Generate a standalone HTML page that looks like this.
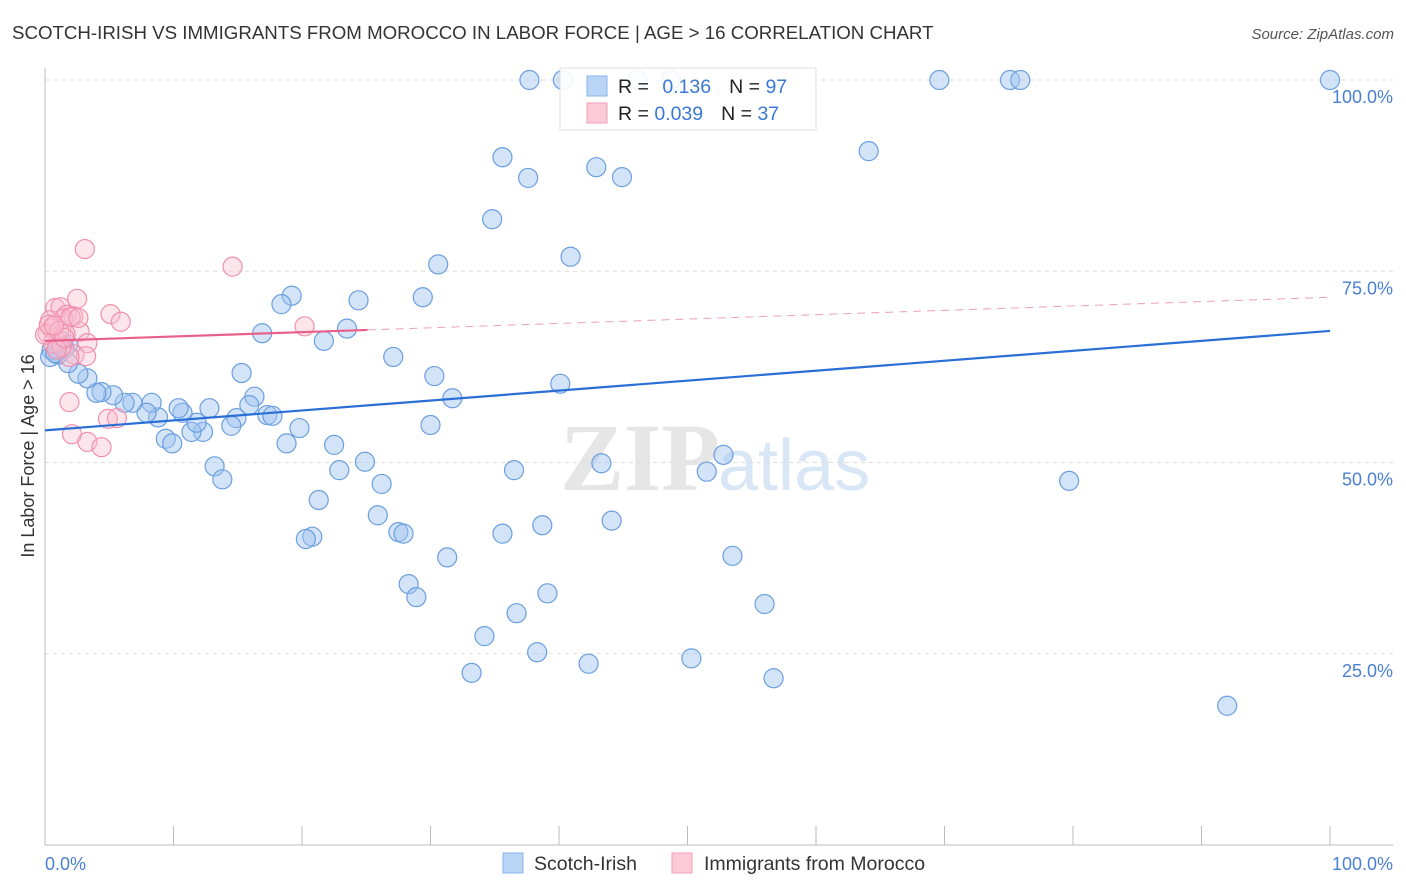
<!DOCTYPE html>
<html><head><meta charset="utf-8">
<style>
body{margin:0;background:#fff;font-family:"Liberation Sans",sans-serif;}
#wrap{position:relative;width:1406px;height:892px;overflow:hidden;}
</style></head>
<body>
<div id="wrap">
<svg id="svg" width="1406" height="892">
  <text x="12" y="39" font-size="18.7" fill="#333">SCOTCH-IRISH VS IMMIGRANTS FROM MOROCCO IN LABOR FORCE | AGE &gt; 16 CORRELATION CHART</text>
  <text x="1394" y="39" font-size="15" fill="#555" font-style="italic" text-anchor="end">Source: ZipAtlas.com</text>
  <text x="720" y="490" font-size="96" font-weight="bold" fill="#e6e6e6" text-anchor="end" font-family="Liberation Serif">ZIP</text>
  <text x="718" y="490" font-size="72" fill="#d8e6f6">atlas</text>
  <g id="grid"></g>
  <g id="axes"></g>
  <g id="pts"></g>
  <g id="lines"></g>
  <text transform="translate(34,456) rotate(-90)" font-size="18" fill="#333" text-anchor="middle">In Labor Force | Age &gt; 16</text>
  <text x="45" y="870" font-size="18" fill="#4a80d0">0.0%</text>
  <text x="1393" y="870" font-size="18" fill="#4a80d0" text-anchor="end">100.0%</text>
  <g>
    <rect x="560" y="68" width="256" height="62" fill="#fff" fill-opacity="0.9" stroke="#ddd"/>
    <rect x="587" y="76" width="20" height="20" fill="#b9d4f5" stroke="#8ab4ea"/>
    <rect x="587" y="103" width="20" height="20" fill="#fbc9d7" stroke="#f2a0b8"/>
    <text x="618" y="93" font-size="19.5" fill="#222">R = <tspan fill="#3a78d4" dx="8">0.136</tspan><tspan dx="18" fill="#222">N = </tspan><tspan fill="#3a78d4">97</tspan></text>
    <text x="618" y="120" font-size="19.5" fill="#222">R = <tspan fill="#3a78d4">0.039</tspan><tspan dx="18" fill="#222">N = </tspan><tspan fill="#3a78d4">37</tspan></text>
  </g>
  <g>
    <rect x="503" y="853" width="20" height="20" fill="#b9d4f5" stroke="#8ab4ea"/>
    <text x="534" y="870" font-size="19.5" fill="#333">Scotch-Irish</text>
    <rect x="672" y="853" width="20" height="20" fill="#fbc9d7" stroke="#f2a0b8"/>
    <text x="704" y="870" font-size="19.5" fill="#333">Immigrants from Morocco</text>
  </g>
</svg>
</div>
<script>
const yTicks=[25,50,75,100];
const yTickLabels=["25.0%","50.0%","75.0%","100.0%"];
const xTicks=[0,10,20,30,40,50,60,70,80,90,100];
const blueX=[37.7,40.3,46.1,48.7,69.6,75.1,75.9,100,35.6,64.1,42.9,37.6,44.9,34.8,40.9,30.6,19.2,18.4,24.4,29.4,16.9,23.5,21.7,27.1,30.3,40.1,31.7,15.3,16.3,15.9,14.9,14.5,17.3,17.7,19.8,12.8,12.3,11.4,11.8,10.7,10.4,9.4,9.9,8.8,8.3,7.9,6.8,6.2,5.3,4.4,4.0,3.3,2.6,1.8,1.0,0.5,1.2,1.8,18.8,22.5,30.0,24.9,22.9,13.2,13.8,26.2,21.3,25.9,27.5,27.9,20.8,20.3,31.3,28.3,28.9,35.6,38.7,36.5,43.3,44.1,39.1,36.7,34.2,38.3,33.2,42.3,50.3,52.8,51.5,53.5,56.0,56.7,79.7,92.0,0.4,0.8,1.5];
const blueY=[100,100,100,100,100,100,100,100,89.9,90.7,88.6,87.2,87.3,81.8,76.9,75.9,71.8,70.7,71.2,71.6,66.9,67.5,65.9,63.8,61.3,60.3,58.4,61.7,58.6,57.5,55.8,54.8,56.2,56.1,54.5,57.1,54.0,54.0,55.2,56.5,57.1,53.1,52.5,55.9,57.8,56.5,57.8,57.8,58.8,59.2,59.1,61.0,61.6,63.0,64.1,64.7,66.0,65.4,52.5,52.3,54.9,50.1,49.0,49.5,47.8,47.2,45.1,43.1,40.9,40.7,40.3,40.0,37.6,34.1,32.4,40.7,41.8,49.0,49.9,42.4,32.9,30.3,27.3,25.2,22.5,23.7,24.4,51.0,48.8,37.8,31.5,21.8,47.6,18.2,63.8,64.3,64.9];
const pinkX=[3.1,14.6,2.5,0.8,1.2,5.1,5.9,1.7,2.2,1.4,0.4,0.5,2.7,1.6,0.2,20.2,3.3,1.0,2.3,3.2,1.9,1.9,4.9,5.6,2.1,3.3,4.4,0.6,0,1.3,0.3,1.1,2.0,0.9,1.5,0.7,2.6];
const pinkY=[77.9,75.6,71.4,70.2,70.3,69.4,68.4,69.3,69.1,68.8,68.6,67.5,67.1,66.8,66.9,67.8,65.6,65.8,64.1,63.9,63.8,57.9,55.7,55.8,53.7,52.7,52.0,65.6,66.7,65.1,68.0,67.2,69.0,64.8,66.3,67.9,68.9];
const blueTrend=[54.2,67.2];
const pinkTrend=[65.9,71.6];
const pinkSolidEnd=25.1;

const NS="http://www.w3.org/2000/svg";
const X=v=>45+v*12.85, Y=v=>845-v*7.65;
function mk(tag,attrs,parent){const e=document.createElementNS(NS,tag);for(const k in attrs)e.setAttribute(k,attrs[k]);document.getElementById(parent).appendChild(e);return e;}
yTicks.forEach((t,i)=>{
  const l=mk('line',{x1:45,x2:1393,y1:Y(t),y2:Y(t),stroke:'#ddd','stroke-dasharray':'4,4'},'grid');
  
  
  const tx=mk('text',{x:1393,y:Y(t)+23,'font-size':18,fill:'#4a80d0','text-anchor':'end'},'grid');
  tx.textContent=yTickLabels[i];
  
  
});
let a=mk('line',{x1:45,x2:45,y1:68,y2:845,stroke:'#bbb'},'axes');


a=mk('line',{x1:45,x2:1393,y1:845,y2:845,stroke:'#bbb'},'axes');


xTicks.forEach(t=>{
  const l=mk('line',{x1:X(t),x2:X(t),y1:826,y2:845,stroke:'#bbb'},'axes');
  
  
});
blueX.forEach((v,i)=>{
  const c=mk('circle',{cx:X(v),cy:Y(blueY[i]),r:9.5,fill:'rgba(160,196,240,0.45)',stroke:'#6a9fe0','stroke-width':1.2},'pts');
  
  
});
pinkX.forEach((v,i)=>{
  const c=mk('circle',{cx:X(v),cy:Y(pinkY[i]),r:9.5,fill:'rgba(250,190,208,0.4)',stroke:'#f090ad','stroke-width':1.2},'pts');
  
  
});
let t=mk('line',{x1:X(0),y1:Y(blueTrend[0]),x2:X(100),y2:Y(blueTrend[1]),stroke:'#2a6fd6','stroke-width':2.2},'lines');


const pAt=x=>pinkTrend[0]+(pinkTrend[1]-pinkTrend[0])*x/100;
t=mk('line',{x1:X(0),y1:Y(pAt(0)),x2:X(pinkSolidEnd),y2:Y(pAt(pinkSolidEnd)),stroke:'#e8608a','stroke-width':2.2},'lines');


t=mk('line',{x1:X(pinkSolidEnd),y1:Y(pAt(pinkSolidEnd)),x2:X(100),y2:Y(pAt(100)),stroke:'#eea0b8','stroke-width':1,'stroke-dasharray':'8,6'},'lines');


</script>
</body></html>
